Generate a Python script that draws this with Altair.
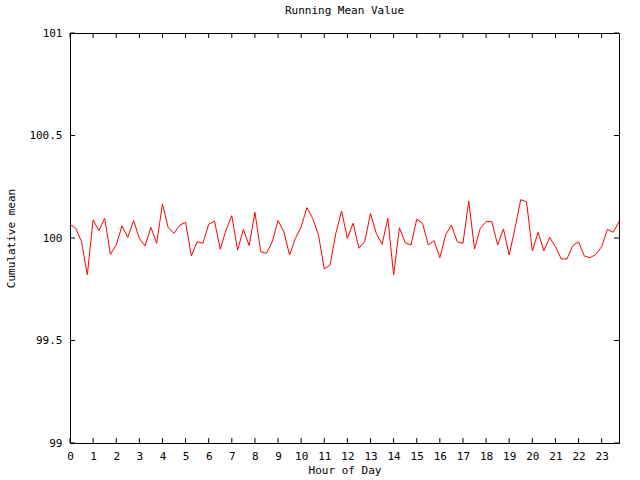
import altair as alt
import pandas as pd

# 96 samples, one every 15 minutes
hours = [i * 0.25 for i in range(96)]
means = [
    100.067, 100.047, 99.982, 99.820, 100.088, 100.036, 100.096, 99.920,
    99.966, 100.059, 100.003, 100.085, 99.998, 99.961, 100.052, 99.974,
    100.166, 100.050, 100.023, 100.063, 100.076, 99.912, 99.982, 99.974,
    100.067, 100.083, 99.945, 100.039, 100.109, 99.941, 100.042, 99.963,
    100.125, 99.933, 99.925, 99.982, 100.085, 100.031, 99.917, 99.998,
    100.055, 100.148, 100.096, 100.015, 99.849, 99.868, 100.023, 100.132,
    99.998, 100.072, 99.950, 99.982, 100.120, 100.023, 99.969, 100.096,
    99.820, 100.050, 99.977, 99.966, 100.091, 100.072, 99.966, 99.987,
    99.904, 100.015, 100.063, 99.982, 99.974, 100.180, 99.946, 100.047,
    100.080, 100.080, 99.966, 100.044, 99.917, 100.047, 100.187, 100.177,
    99.937, 100.028, 99.937, 100.003, 99.958, 99.898, 99.898, 99.963,
    99.982, 99.912, 99.904, 99.920, 99.958, 100.042, 100.028, 100.080,
]
x_ticks = list(range(24))
y_ticks = [99, 99.5, 100, 100.5, 101]

FONT = "DejaVu Sans Mono"
W, H = 549, 410

df = pd.DataFrame({"hour": hours, "mean": means})
xt = pd.DataFrame({"t": x_ticks})
yt = pd.DataFrame({"t": y_ticks})

xscale = alt.Scale(domain=[0, 23.75], nice=False, zero=False)
yscale = alt.Scale(domain=[99, 101], nice=False, zero=False)

axis_style = dict(labelFont=FONT, labelFontSize=11, labelColor="black",
                  titleFont=FONT, titleFontSize=11, titleColor="black",
                  titleFontWeight="normal", ticks=False, domain=False,
                  grid=False, labelOverlap=False)

xaxis = alt.Axis(values=x_ticks, title="Hour of Day", labelPadding=7,
                 titlePadding=3, labelFlush=False, **axis_style)
yaxis = alt.Axis(values=y_ticks, title="Cumulative mean", labelPadding=8,
                 titlePadding=12, labelExpr="'' + datum.value", **axis_style)

line = alt.Chart(df).mark_line(color="#ff0000", strokeWidth=1, clip=True).encode(
    x=alt.X("hour:Q", scale=xscale, axis=xaxis, title="Hour of Day"),
    y=alt.Y("mean:Q", scale=yscale, axis=yaxis, title="Cumulative mean"),
)

tick_len = 5
xb = alt.Chart(xt).mark_rule(color="black", strokeWidth=1).encode(
    x=alt.X("t:Q", scale=xscale, axis=xaxis, title="Hour of Day"),
    y=alt.value(H), y2=alt.value(H - tick_len))
xtop = alt.Chart(xt).mark_rule(color="black", strokeWidth=1).encode(
    x=alt.X("t:Q", scale=xscale, axis=xaxis, title="Hour of Day"),
    y=alt.value(0), y2=alt.value(tick_len))
yl = alt.Chart(yt).mark_rule(color="black", strokeWidth=1).encode(
    y=alt.Y("t:Q", scale=yscale, axis=yaxis, title="Cumulative mean"),
    x=alt.value(0), x2=alt.value(tick_len))
yr = alt.Chart(yt).mark_rule(color="black", strokeWidth=1).encode(
    y=alt.Y("t:Q", scale=yscale, axis=yaxis, title="Cumulative mean"),
    x=alt.value(W), x2=alt.value(W - tick_len))

chart = alt.layer(line, xb, xtop, yl, yr).properties(
    width=W, height=H,
    background="white",
    title=alt.TitleParams("Running Mean Value", font=FONT, fontSize=11,
                          fontWeight="normal", color="black", offset=11),
    autosize=alt.AutoSizeParams(type="none"),
    padding={"left": 70, "top": 33, "right": 21, "bottom": 37},
).configure_view(stroke="black", strokeWidth=1)

chart.save("out.html", embed_options={"renderer": "svg", "actions": False})
